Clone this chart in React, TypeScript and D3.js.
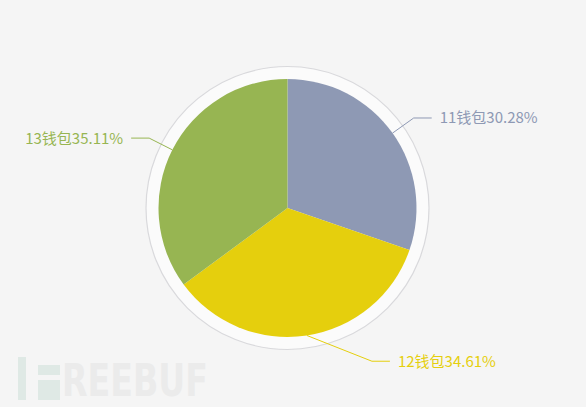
import { useEffect, useRef } from 'react';
import * as d3 from 'd3';

const wallets = ['11钱包', '12钱包', '13钱包'];
const shares = [30.28, 34.61, 35.11];
const colors = ['#8e99b4', '#e5cf0d', '#97b552'];
// label line elbow nudges (px along x), the bottom label is pushed right
const elbowShift = [0, 61, 0];

const App = () => {
  const ref = useRef<SVGSVGElement>(null);

  useEffect(() => {
    const width = 586;
    const height = 407;
    const cx = 287.5;
    const cy = 208;
    const radius = 129;

    const svg = d3.select(ref.current)
      .attr('width', width)
      .attr('height', height);
    svg.selectAll('*').remove();

    svg.append('rect')
      .attr('width', width)
      .attr('height', height)
      .attr('fill', '#f5f5f5');

    // watermark
    const wm = svg.append('g');
    wm.append('rect').attr('x', 18).attr('y', 357).attr('width', 8).attr('height', 43).attr('fill', '#dfe9e5');
    wm.append('rect').attr('x', 38).attr('y', 365).attr('width', 22).attr('height', 10).attr('fill', '#dfe9e5');
    wm.append('rect').attr('x', 38).attr('y', 380).attr('width', 22).attr('height', 20).attr('fill', '#dfe9e5');
    wm.append('text')
      .attr('x', 62)
      .attr('y', 396)
      .attr('font-family', 'DejaVu Sans')
      .attr('font-weight', 'bold')
      .attr('font-size', 44)
      .attr('textLength', 146)
      .attr('lengthAdjust', 'spacingAndGlyphs')
      .attr('fill', '#ebebeb')
      .text('REEBUF');

    const g = svg.append('g').attr('transform', `translate(${cx}, ${cy})`);

    g.append('circle')
      .attr('r', 141.5)
      .attr('fill', '#fbfbfb')
      .attr('stroke', '#d9d9dc')
      .attr('stroke-width', 1.2);

    const pie = d3.pie<number>().sort(null).value((d) => d)(shares);
    const arc = d3.arc<d3.PieArcDatum<number>>().innerRadius(0).outerRadius(radius);

    g.selectAll('path.slice')
      .data(pie)
      .enter().append('path')
      .attr('class', 'slice')
      .attr('d', arc)
      .attr('fill', (d, i) => colors[i]);

    pie.forEach((d, i) => {
      const a = (d.startAngle + d.endAngle) / 2;
      const sx = Math.sin(a);
      const sy = -Math.cos(a);
      const p0 = [sx * radius, sy * radius];
      const p1 = [sx * (radius + 26) + elbowShift[i], sy * (radius + 26)];
      const dir = sx >= 0 ? 1 : -1;
      const p2 = [p1[0] + dir * 18, p1[1]];
      g.append('polyline')
        .attr('points', [p0, p1, p2].map((p) => p.join(',')).join(' '))
        .attr('fill', 'none')
        .attr('stroke', colors[i])
        .attr('stroke-width', 1);
      g.append('text')
        .attr('x', p2[0] + dir * 8)
        .attr('y', p2[1])
        .attr('dy', '0.36em')
        .attr('text-anchor', dir > 0 ? 'start' : 'end')
        .attr('font-family', '"Noto Sans CJK SC", "Noto Sans", sans-serif')
        .attr('font-size', 15)
        .attr('fill', colors[i])
        .text(`${wallets[i]}${shares[i].toFixed(2)}%`);
    });
  }, []);

  return (
    <div style={{ position: 'fixed', left: 0, top: 0 }}>
      <svg ref={ref} style={{ display: 'block' }}></svg>
    </div>
  );
};

export default App;
